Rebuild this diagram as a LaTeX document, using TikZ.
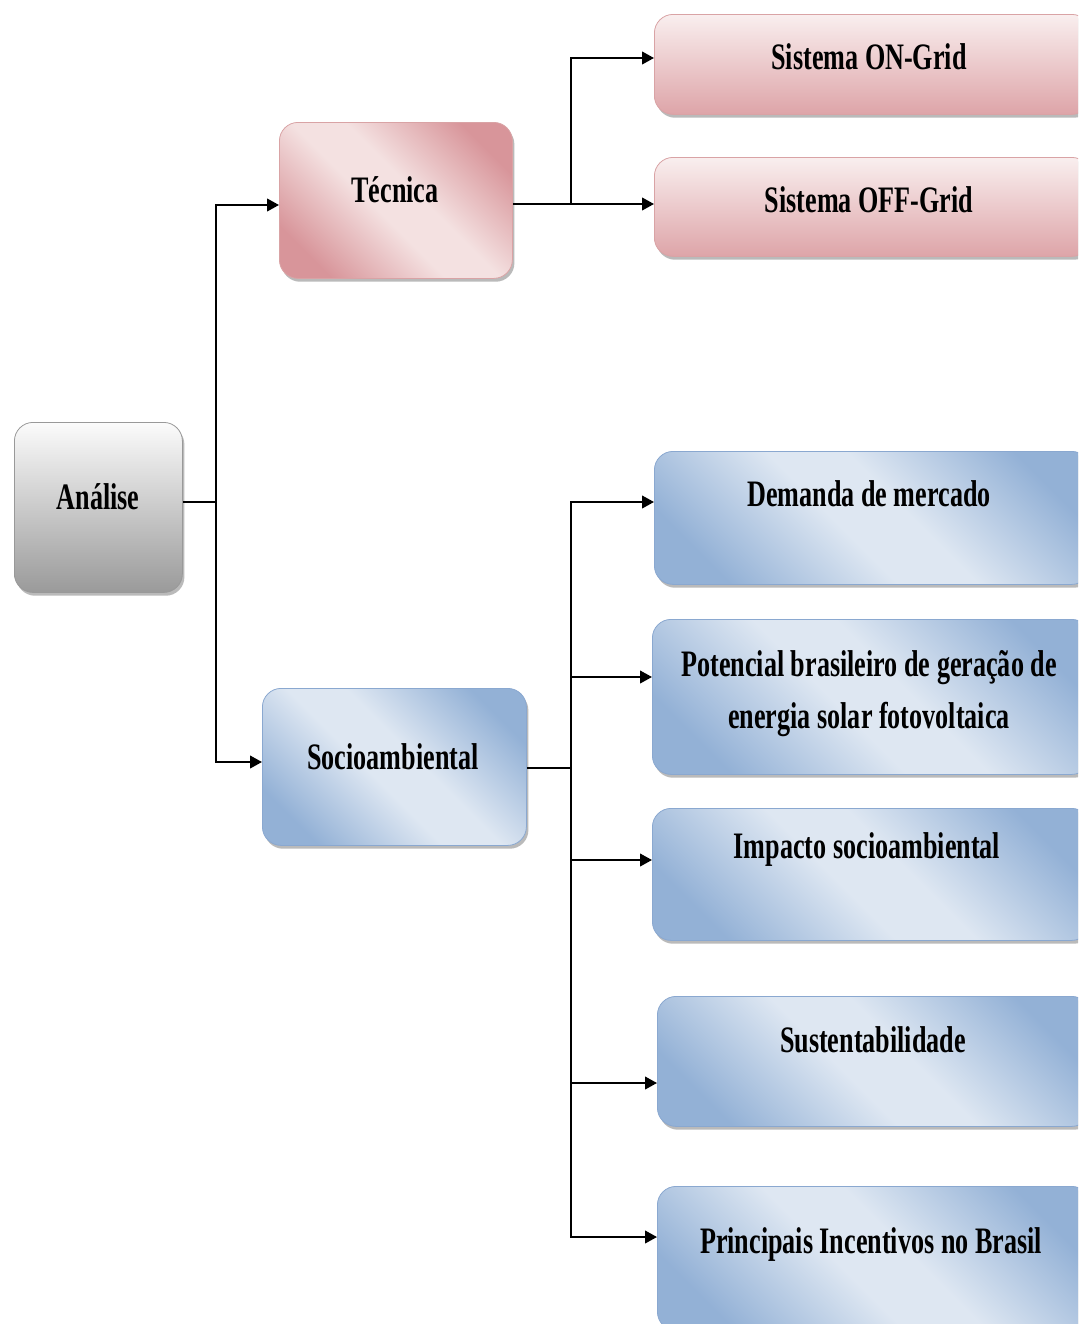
\documentclass[tikz,border=0pt]{standalone}
\usepackage{fontspec}
\setmainfont{Liberation Serif}[FakeStretch=0.70]
\usetikzlibrary{shadows,arrows.meta,calc}
\definecolor{pinkD}{HTML}{D8959A}
\definecolor{pinkL}{HTML}{F4E1E1}
\definecolor{pinkE}{HTML}{D9A3A5}
\definecolor{blueD}{HTML}{93B1D6}
\definecolor{blueL}{HTML}{DEE7F2}
\definecolor{blueE}{HTML}{8AA8D0}
\definecolor{grayT}{HTML}{FBFBFB}
\definecolor{grayB}{HTML}{9A9A9A}
\pgfdeclareverticalshading{pinkdiagsh}{100bp}{color(0bp)=(pinkD); color(24bp)=(pinkD); color(45bp)=(pinkL); color(55bp)=(pinkL); color(76bp)=(pinkD); color(100bp)=(pinkD)}
\pgfdeclareverticalshading{bluediagsh}{100bp}{color(0bp)=(blueD); color(24bp)=(blueD); color(45bp)=(blueL); color(55bp)=(blueL); color(76bp)=(blueD); color(100bp)=(blueD)}
\begin{document}
\begin{tikzpicture}[x=0.75pt,y=-0.75pt,
  box/.style={rounded corners=14pt, line width=0.6pt, inner sep=0pt, anchor=north west,
    drop shadow={shadow xshift=1.5pt,shadow yshift=-2.5pt,opacity=0.45,fill=black!60}},
  graybox/.style={box, draw=gray!80, top color=grayT, bottom color=grayB},
  pinkdiag/.style={box, draw=pinkE, shading=pinkdiagsh, shading angle=-45},
  pinkvert/.style={box, draw=pinkE, top color=pinkL!55!white, bottom color=pinkD!80!pinkL},
  bluediag/.style={box, draw=blueE, shading=bluediagsh, shading angle=-45},
  txt/.style={font=\fontsize{28}{39}\selectfont\bfseries, align=center, inner sep=0pt, text=black},
  ln/.style={line width=1.5pt, draw=black},
  arr/.style={ln, -{Triangle[length=9pt,width=9.5pt]}}
]
\clip (0,0) rectangle (1078,1324);
\fill[white] (0,0) rectangle (1078,1324);

% boxes
\node[graybox, minimum width=126pt, minimum height=127.5pt] (an) at (14,422) {};
\node[pinkdiag, minimum width=174.75pt, minimum height=117pt] (tec) at (279,122) {};
\node[pinkvert, minimum width=327pt, minimum height=75pt] (on) at (654,14) {};
\node[pinkvert, minimum width=327pt, minimum height=74.25pt] (off) at (654,157) {};
\node[bluediag, minimum width=198pt, minimum height=117.75pt] (soc) at (262,688) {};
\node[bluediag, minimum width=327pt, minimum height=99.75pt] (dem) at (654,451) {};
\node[bluediag, minimum width=328.5pt, minimum height=116.25pt] (pot) at (652,619) {};
\node[bluediag, minimum width=328.5pt, minimum height=99pt] (imp) at (652,808) {};
\node[bluediag, minimum width=324.75pt, minimum height=97.5pt] (sus) at (657,996) {};
\node[bluediag, minimum width=324.75pt, minimum height=108pt] (pri) at (657,1186) {};

% texts
\node[txt] (tan) at (98,497) {Análise};
\node[txt] (ttec) at (395,190) {Técnica};
\node[txt] (ton) at (869,57) {Sistema ON-Grid};
\node[txt] (toff) at (869,200) {Sistema OFF-Grid};
\node[txt] (tsoc) at (393,757) {Socioambiental};
\node[txt] (tdem) at (869,494) {Demanda de mercado};
\node[txt] (tpot) at (869,694) {Potencial brasileiro de geração de\\energia solar fotovoltaica};
\node[txt] (timp) at (867,850) {Impacto socioambiental};
\node[txt] (tsus) at (873,1040) {Sustentabilidade};
\node[txt] (tpri) at (871,1245) {Principais Incentivos no Brasil};

% connector points
\coordinate (a1) at ($(an.north east)+(0,80)$);
\coordinate (j1) at ($(a1)+(33,0)$);
\coordinate (t1) at ($(tec.north west)+(0,83)$);
\coordinate (s1) at ($(soc.north west)+(0,74)$);
\coordinate (t2) at ($(tec.north east)+(0,82)$);
\coordinate (j2) at (571,0);
\coordinate (on1) at ($(on.north west)+(0,44)$);
\coordinate (off1) at ($(off.north west)+(0,47)$);
\coordinate (s2) at ($(soc.north east)+(0,80)$);
\coordinate (dem1) at ($(dem.north west)+(0,51)$);
\coordinate (pot1) at ($(pot.north west)+(0,58)$);
\coordinate (imp1) at ($(imp.north west)+(0,52)$);
\coordinate (sus1) at ($(sus.north west)+(0,87)$);
\coordinate (pri1) at ($(pri.north west)+(0,51)$);

\draw[ln] (a1) -- (j1);
\draw[arr] (j1) |- (t1);
\draw[arr] (j1) |- (s1);

\draw[ln] (t2) -- (j2 |- t2);
\draw[arr] (j2 |- t2) |- (on1);
\draw[arr] (j2 |- t2) |- (off1);

\draw[ln] (s2) -- (j2 |- s2);
\draw[arr] (j2 |- s2) |- (dem1);
\draw[arr] (j2 |- s2) |- (pot1);
\draw[arr] (j2 |- s2) |- (imp1);
\draw[arr] (j2 |- s2) |- (sus1);
\draw[arr] (j2 |- s2) |- (pri1);
\end{tikzpicture}
\end{document}
